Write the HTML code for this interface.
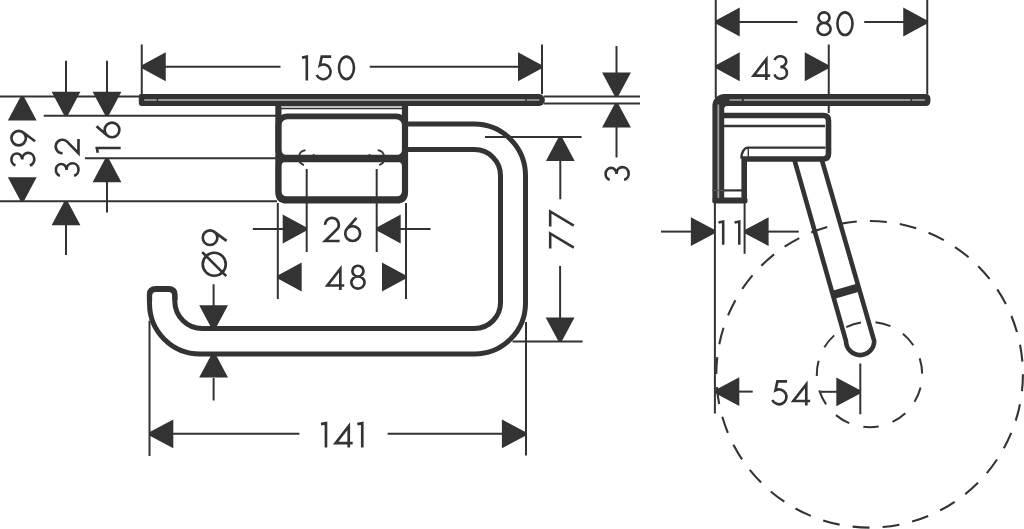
<!DOCTYPE html>
<html><head><meta charset="utf-8"><style>
html,body{margin:0;padding:0;background:#fff;width:1024px;height:529px;overflow:hidden}
svg{display:block}
text{font-family:"Liberation Sans",sans-serif;fill:#333}
</style></head><body>
<svg width="1024" height="529" viewBox="0 0 1024 529">
<line x1="141.75" y1="44.5" x2="141.75" y2="94" stroke="#333" stroke-width="2.0" />
<line x1="542" y1="44.5" x2="542" y2="94" stroke="#333" stroke-width="2.0" />
<line x1="165" y1="66.75" x2="280.5" y2="66.75" stroke="#333" stroke-width="2.0" />
<line x1="369.75" y1="66.75" x2="519" y2="66.75" stroke="#333" stroke-width="2.0" />
<polygon points="141.75,65.15 165.75,52.35 165.75,81.15 141.75,68.35" fill="#333"/>
<polygon points="542.00,65.15 518.00,52.35 518.00,81.15 542.00,68.35" fill="#333"/>
<path transform="translate(301.80,55.30) scale(1.0040)" d="M0.2,2.3 L5.0,1.3 V25" fill="none" stroke="#333" stroke-width="2.6" stroke-linejoin="miter"/>
<path transform="translate(315.50,55.30) scale(1.0040)" d="M15.6,1.3 H6.2 L4.31,10.08 A7.3,7.3 0 1 1 1.18,19.59" fill="none" stroke="#333" stroke-width="2.6" stroke-linejoin="miter"/>
<path transform="translate(337.70,55.30) scale(1.0040)" d="M1.30,12.50 A7.45,11.20 0 1 0 16.20,12.50 A7.45,11.20 0 1 0 1.30,12.50 Z" fill="none" stroke="#333" stroke-width="2.6" stroke-linejoin="miter"/>
<line x1="0" y1="96.5" x2="140" y2="96.5" stroke="#333" stroke-width="2.0" />
<line x1="43.75" y1="115.75" x2="277" y2="115.75" stroke="#333" stroke-width="2.0" />
<line x1="85" y1="158.25" x2="277" y2="158.25" stroke="#333" stroke-width="2.0" />
<line x1="0" y1="201.25" x2="277" y2="201.25" stroke="#333" stroke-width="2.0" />
<polygon points="20.65,96.50 7.85,120.50 36.65,120.50 23.85,96.50" fill="#333"/>
<polygon points="20.65,201.25 7.85,177.25 36.65,177.25 23.85,201.25" fill="#333"/>
<path transform="matrix(0,-1.0200,1.0200,0,10.10,167.00)" d="M1.6,5.23 A5.9,5.3 0 0 1 13.2,6.6 A5.9,5.3 0 0 1 7.3,11.9 H7.6 A6.3,5.9 0 1 1 1.51,19.33" fill="none" stroke="#333" stroke-width="2.6" stroke-linejoin="miter"/>
<path transform="matrix(0,-1.0200,1.0200,0,10.10,146.50)" d="M1.15,8.40 A7.10,7.10 0 1 0 15.35,8.40 A7.10,7.10 0 1 0 1.15,8.40 Z M13.96,12.61 L5.2,24.5" fill="none" stroke="#333" stroke-width="2.6" stroke-linejoin="miter"/>
<line x1="66" y1="60.75" x2="66" y2="92" stroke="#333" stroke-width="2.0" />
<polygon points="64.40,115.75 51.60,91.75 80.40,91.75 67.60,115.75" fill="#333"/>
<polygon points="64.40,201.25 51.60,225.25 80.40,225.25 67.60,201.25" fill="#333"/>
<line x1="66" y1="224" x2="66" y2="255" stroke="#333" stroke-width="2.0" />
<path transform="matrix(0,-1.0080,1.0080,0,54.60,177.30)" d="M1.6,5.23 A5.9,5.3 0 0 1 13.2,6.6 A5.9,5.3 0 0 1 7.3,11.9 H7.6 A6.3,5.9 0 1 1 1.51,19.33" fill="none" stroke="#333" stroke-width="2.6" stroke-linejoin="miter"/>
<path transform="matrix(0,-1.0080,1.0080,0,54.60,154.90)" d="M1.6,7.9 A6.7,6.7 0 1 1 13.6,11.9 L1.6,23.7 H15.8" fill="none" stroke="#333" stroke-width="2.6" stroke-linejoin="miter"/>
<line x1="107" y1="60.75" x2="107" y2="92" stroke="#333" stroke-width="2.0" />
<polygon points="105.40,115.75 92.60,91.75 121.40,91.75 108.60,115.75" fill="#333"/>
<polygon points="105.40,158.25 92.60,182.25 121.40,182.25 108.60,158.25" fill="#333"/>
<line x1="107" y1="181" x2="107" y2="212.5" stroke="#333" stroke-width="2.0" />
<path transform="matrix(0,-1.0080,1.0080,0,95.50,153.00)" d="M0.2,2.3 L5.0,1.3 V25" fill="none" stroke="#333" stroke-width="2.6" stroke-linejoin="miter"/>
<path transform="matrix(0,-1.0080,1.0080,0,95.50,138.60)" d="M12.3,1.0 L3.09,11.62 M1.30,16.40 A7.30,7.30 0 1 0 15.90,16.40 A7.30,7.30 0 1 0 1.30,16.40 Z" fill="none" stroke="#333" stroke-width="2.6" stroke-linejoin="miter"/>
<path d="M140.8,94.1 H539.1 A5.8,5.9 0 0 1 539.1,105.9 H141.8 Q138.8,105.9 138.8,102.9 V96.1 Q138.8,94.1 140.8,94.1 Z" stroke="none" stroke-width="0" fill="#333" />
<line x1="144.2" y1="100.0" x2="156.7" y2="100.0" stroke="#999" stroke-width="1.8" />
<line x1="158.2" y1="100.0" x2="525.2" y2="100.0" stroke="#999" stroke-width="1.8" />
<line x1="526.7" y1="100.0" x2="539.3" y2="100.0" stroke="#999" stroke-width="1.8" />
<line x1="544" y1="96.5" x2="640" y2="96.5" stroke="#333" stroke-width="2.0" />
<line x1="544" y1="103.4" x2="640" y2="103.4" stroke="#333" stroke-width="2.0" />
<line x1="616.5" y1="46" x2="616.5" y2="73" stroke="#333" stroke-width="2.0" />
<polygon points="614.90,96.50 602.10,72.50 630.90,72.50 618.10,96.50" fill="#333"/>
<polygon points="614.90,103.40 602.10,127.40 630.90,127.40 618.10,103.40" fill="#333"/>
<line x1="616.5" y1="126" x2="616.5" y2="157.5" stroke="#333" stroke-width="2.0" />
<path transform="matrix(0,-1.0280,1.0280,0,604.30,181.40)" d="M1.6,5.23 A5.9,5.3 0 0 1 13.2,6.6 A5.9,5.3 0 0 1 7.3,11.9 H7.6 A6.3,5.9 0 1 1 1.51,19.33" fill="none" stroke="#333" stroke-width="2.6" stroke-linejoin="miter"/>
<path d="M278.4,105 V192 Q278.4,200.5 286.9,200.5 H396.5 Q405,200.5 405,192 V105" stroke="#333" stroke-width="6.2" fill="none" />
<rect x="278.4" y="116.4" width="126.6" height="42.1" rx="9" fill="none" stroke="#333" stroke-width="5.8"/>
<line x1="278.4" y1="158.5" x2="405" y2="158.5" stroke="#333" stroke-width="7.5" />
<rect x="278.4" y="158.5" width="126.6" height="40.5" rx="8" fill="none" stroke="#333" stroke-width="5.6"/>
<line x1="281" y1="108.5" x2="402" y2="108.5" stroke="#333" stroke-width="1.6" />
<line x1="281" y1="106.8" x2="402" y2="106.8" stroke="#bbb" stroke-width="1.6" />
<path d="M303.97,165.04 A7.7,7.7 0 0 1 305.53,150.17" stroke="#333" stroke-width="1.8" fill="none" />
<path d="M313.40,154.19 A7.7,7.7 0 0 1 313.40,161.41" stroke="#333" stroke-width="1.8" fill="none" />
<path d="M377.67,150.17 A7.7,7.7 0 0 1 379.23,165.04" stroke="#333" stroke-width="1.8" fill="none" />
<path d="M369.80,161.41 A7.7,7.7 0 0 1 369.80,154.19" stroke="#333" stroke-width="1.8" fill="none" />
<line x1="306.7" y1="169" x2="306.7" y2="252" stroke="#333" stroke-width="2.0" />
<line x1="376.7" y1="169" x2="376.7" y2="252" stroke="#333" stroke-width="2.0" />
<line x1="277.8" y1="203" x2="277.8" y2="299" stroke="#333" stroke-width="2.0" />
<line x1="406" y1="203" x2="406" y2="299" stroke="#333" stroke-width="2.0" />
<line x1="252.8" y1="229" x2="284" y2="229" stroke="#333" stroke-width="2.0" />
<polygon points="306.70,227.40 282.70,214.60 282.70,243.40 306.70,230.60" fill="#333"/>
<line x1="400" y1="229" x2="430.6" y2="229" stroke="#333" stroke-width="2.0" />
<polygon points="376.70,227.40 400.70,214.60 400.70,243.40 376.70,230.60" fill="#333"/>
<path transform="translate(323.50,216.80) scale(1.0200)" d="M1.6,7.9 A6.7,6.7 0 1 1 13.6,11.9 L1.6,23.7 H15.8" fill="none" stroke="#333" stroke-width="2.6" stroke-linejoin="miter"/>
<path transform="translate(343.90,216.80) scale(1.0200)" d="M12.3,1.0 L3.09,11.62 M1.30,16.40 A7.30,7.30 0 1 0 15.90,16.40 A7.30,7.30 0 1 0 1.30,16.40 Z" fill="none" stroke="#333" stroke-width="2.6" stroke-linejoin="miter"/>
<polygon points="277.70,275.40 301.70,262.60 301.70,291.40 277.70,278.60" fill="#333"/>
<polygon points="406.00,275.40 382.00,262.60 382.00,291.40 406.00,278.60" fill="#333"/>
<path transform="translate(326.00,264.40) scale(1.0240)" d="M14.0,25 V4.3 L1.3,20.6 H17.8" fill="none" stroke="#333" stroke-width="2.6" stroke-linejoin="miter"/>
<path transform="translate(350.00,264.40) scale(1.0240)" d="M2.35,6.55 A5.40,5.25 0 1 0 13.15,6.55 A5.40,5.25 0 1 0 2.35,6.55 Z M1.30,17.75 A6.45,5.95 0 1 0 14.20,17.75 A6.45,5.95 0 1 0 1.30,17.75 Z" fill="none" stroke="#333" stroke-width="2.6" stroke-linejoin="miter"/>
<path d="M408,124.1 H474 A51.5,51.5 0 0 1 525.5,175.6 V303 A51,51 0 0 1 474.5,354 H200 A50.5,50.5 0 0 1 149.5,303.5 V296 Q149.5,289.5 156,289.5 H168.5 Q174.8,289.5 174.8,296 V301 A27.5,27.5 0 0 0 202.3,328.5 H474.5 A26,26 0 0 0 500.5,302.5 V175.6 A26,26 0 0 0 474.5,149.6 H408" stroke="#333" stroke-width="5.0" fill="none" />
<path d="M149.5,301 V294.5 Q149.5,288.6 156,288.6 H168.5 Q174.9,288.6 174.9,294.5 V300" stroke="#333" stroke-width="5.3" fill="none" />
<path d="M153,288.8 Q162.2,286.6 171.5,288.8" stroke="#333" stroke-width="3" fill="none" />
<line x1="485" y1="136.9" x2="581.6" y2="136.9" stroke="#333" stroke-width="2.0" />
<line x1="512.5" y1="341.5" x2="582.6" y2="341.5" stroke="#333" stroke-width="2.0" />
<polygon points="558.70,136.90 545.90,160.90 574.70,160.90 561.90,136.90" fill="#333"/>
<line x1="560.3" y1="160" x2="560.3" y2="199.3" stroke="#333" stroke-width="2.0" />
<polygon points="558.50,341.50 545.70,317.50 574.50,317.50 561.70,341.50" fill="#333"/>
<line x1="560.1" y1="265.9" x2="560.1" y2="318.5" stroke="#333" stroke-width="2.0" />
<path transform="matrix(0,-0.9960,0.9960,0,548.90,248.40)" d="M0,1.3 H15.0 L0.8,25" fill="none" stroke="#333" stroke-width="2.6" stroke-linejoin="miter"/>
<path transform="matrix(0,-0.9960,0.9960,0,548.90,226.40)" d="M0,1.3 H15.0 L0.8,25" fill="none" stroke="#333" stroke-width="2.6" stroke-linejoin="miter"/>
<line x1="213.6" y1="284.3" x2="213.6" y2="306" stroke="#333" stroke-width="2.0" />
<polygon points="212.00,329.30 199.20,305.30 228.00,305.30 215.20,329.30" fill="#333"/>
<polygon points="212.00,353.40 199.20,377.40 228.00,377.40 215.20,353.40" fill="#333"/>
<line x1="213.6" y1="378" x2="213.6" y2="400.5" stroke="#333" stroke-width="2.0" />
<path transform="matrix(0,-1.0280,1.0280,0,201.40,277.20)" d="M1.40,12.50 A11.20,11.20 0 1 0 23.80,12.50 A11.20,11.20 0 1 0 1.40,12.50 Z M1.0,24.2 L24.4,0.8" fill="none" stroke="#333" stroke-width="2.6" stroke-linejoin="miter"/>
<path transform="matrix(0,-1.0280,1.0280,0,201.40,246.20)" d="M1.15,8.40 A7.10,7.10 0 1 0 15.35,8.40 A7.10,7.10 0 1 0 1.15,8.40 Z M13.96,12.61 L5.2,24.5" fill="none" stroke="#333" stroke-width="2.6" stroke-linejoin="miter"/>
<line x1="149.5" y1="320.8" x2="149.5" y2="456" stroke="#333" stroke-width="2.0" />
<line x1="526" y1="322" x2="526" y2="455.6" stroke="#333" stroke-width="2.0" />
<polygon points="149.30,432.20 173.30,419.40 173.30,448.20 149.30,435.40" fill="#333"/>
<line x1="173" y1="433.8" x2="299.4" y2="433.8" stroke="#333" stroke-width="2.0" />
<polygon points="525.90,432.20 501.90,419.40 501.90,448.20 525.90,435.40" fill="#333"/>
<line x1="387.6" y1="433.8" x2="503" y2="433.8" stroke="#333" stroke-width="2.0" />
<path transform="translate(320.80,421.80) scale(1.0320)" d="M0.2,2.3 L5.0,1.3 V25" fill="none" stroke="#333" stroke-width="2.6" stroke-linejoin="miter"/>
<path transform="translate(334.30,421.80) scale(1.0320)" d="M14.0,25 V4.3 L1.3,20.6 H17.8" fill="none" stroke="#333" stroke-width="2.6" stroke-linejoin="miter"/>
<path transform="translate(357.10,421.80) scale(1.0320)" d="M0.2,2.3 L5.0,1.3 V25" fill="none" stroke="#333" stroke-width="2.6" stroke-linejoin="miter"/>
<line x1="715.75" y1="0" x2="715.75" y2="98" stroke="#333" stroke-width="2.0" />
<line x1="927.25" y1="0" x2="927.25" y2="94" stroke="#333" stroke-width="2.0" />
<polygon points="715.75,20.40 739.75,7.60 739.75,36.40 715.75,23.60" fill="#333"/>
<polygon points="927.25,20.40 903.25,7.60 903.25,36.40 927.25,23.60" fill="#333"/>
<line x1="739" y1="22" x2="797.5" y2="22" stroke="#333" stroke-width="2.0" />
<line x1="864.25" y1="22" x2="904" y2="22" stroke="#333" stroke-width="2.0" />
<path transform="translate(816.20,11.00) scale(1.0120)" d="M2.35,6.55 A5.40,5.25 0 1 0 13.15,6.55 A5.40,5.25 0 1 0 2.35,6.55 Z M1.30,17.75 A6.45,5.95 0 1 0 14.20,17.75 A6.45,5.95 0 1 0 1.30,17.75 Z" fill="none" stroke="#333" stroke-width="2.6" stroke-linejoin="miter"/>
<path transform="translate(836.10,11.00) scale(1.0120)" d="M1.30,12.50 A7.45,11.20 0 1 0 16.20,12.50 A7.45,11.20 0 1 0 1.30,12.50 Z" fill="none" stroke="#333" stroke-width="2.6" stroke-linejoin="miter"/>
<polygon points="715.75,65.15 739.75,52.35 739.75,81.15 715.75,68.35" fill="#333"/>
<polygon points="828.75,65.15 804.75,52.35 804.75,81.15 828.75,68.35" fill="#333"/>
<line x1="828.75" y1="44.5" x2="828.75" y2="113" stroke="#333" stroke-width="2.0" />
<path transform="translate(752.30,54.90) scale(1.0040)" d="M14.0,25 V4.3 L1.3,20.6 H17.8" fill="none" stroke="#333" stroke-width="2.6" stroke-linejoin="miter"/>
<path transform="translate(773.00,54.90) scale(1.0040)" d="M1.6,5.23 A5.9,5.3 0 0 1 13.2,6.6 A5.9,5.3 0 0 1 7.3,11.9 H7.6 A6.3,5.9 0 1 1 1.51,19.33" fill="none" stroke="#333" stroke-width="2.6" stroke-linejoin="miter"/>
<path d="M712.4,199 V106 A12,12 0 0 1 724.4,93.9 H926.2 A4.2,4.2 0 0 1 930.4,98.1 V101.7 A4.2,4.2 0 0 1 926.2,105.9 H727.2 A3,3 0 0 0 724.2,108.9 V199 Z" stroke="none" stroke-width="0" fill="#333" />
<rect x="712.3" y="197.4" width="35.2" height="6" rx="2.2" fill="#333"/>
<line x1="729.5" y1="100" x2="741.8" y2="100" stroke="#999" stroke-width="1.8" />
<line x1="718.3" y1="104.5" x2="718.3" y2="198" stroke="#999" stroke-width="1.8" />
<line x1="743.8" y1="100" x2="910.5" y2="100" stroke="#999" stroke-width="1.8" />
<line x1="912.1" y1="100" x2="924.8" y2="100" stroke="#999" stroke-width="1.8" />
<path d="M724,115.5 H823.5 Q828.5,115.5 828.5,120.5 V153.5 Q828.5,159 823,159 H744.2 V199" stroke="#333" stroke-width="5.6" fill="none" stroke-linejoin="miter"/>
<line x1="724" y1="126" x2="825" y2="126" stroke="#333" stroke-width="2.4" />
<path d="M741.4,158.5 A6.4,10.5 0 0 1 747.8,147.6 H825.5" stroke="#333" stroke-width="2.4" fill="none" />
<line x1="748.3" y1="148" x2="748.3" y2="157" stroke="#333" stroke-width="1.4" />
<line x1="724" y1="190.4" x2="742" y2="190.4" stroke="#333" stroke-width="2.2" />
<line x1="712" y1="190.4" x2="724" y2="190.4" stroke="#555" stroke-width="1.2" />
<path d="M794,158.3 L846.0,341 A14.1,14.1 0 0 0 874.2,341 L821.4,158.3" stroke="#333" stroke-width="4.6" fill="none" />
<line x1="832.7" y1="295" x2="858.7" y2="287.5" stroke="#333" stroke-width="8.5" />
<circle cx="869.6" cy="374.3" r="153.3" fill="none" stroke="#333" stroke-width="2.1" stroke-dasharray="17 13.1"/>
<circle cx="869.5" cy="374.5" r="52.7" fill="none" stroke="#333" stroke-width="2" stroke-dasharray="15.5 14.6" stroke-dashoffset="-13.2"/>
<line x1="714.9" y1="203" x2="714.9" y2="413.5" stroke="#333" stroke-width="2.0" />
<line x1="744.6" y1="203" x2="744.6" y2="253.8" stroke="#333" stroke-width="2.0" />
<line x1="661" y1="231.6" x2="692" y2="231.6" stroke="#333" stroke-width="2.0" />
<polygon points="714.90,230.00 690.90,217.20 690.90,246.00 714.90,233.20" fill="#333"/>
<polygon points="744.60,230.00 768.60,217.20 768.60,246.00 744.60,233.20" fill="#333"/>
<line x1="767" y1="231.6" x2="798.7" y2="231.6" stroke="#333" stroke-width="2.0" />
<path transform="translate(718.30,220.30) scale(0.9760)" d="M0.2,2.3 L5.0,1.3 V25" fill="none" stroke="#333" stroke-width="2.6" stroke-linejoin="miter"/>
<path transform="translate(734.40,220.30) scale(0.9760)" d="M0.2,2.3 L5.0,1.3 V25" fill="none" stroke="#333" stroke-width="2.6" stroke-linejoin="miter"/>
<polygon points="715.30,390.00 739.30,377.20 739.30,406.00 715.30,393.20" fill="#333"/>
<line x1="738" y1="391.6" x2="752.7" y2="391.6" stroke="#333" stroke-width="2.0" />
<polygon points="860.30,390.20 836.30,377.40 836.30,406.20 860.30,393.40" fill="#333"/>
<line x1="820.8" y1="391.8" x2="837" y2="391.8" stroke="#333" stroke-width="2.0" />
<line x1="860.3" y1="363.5" x2="860.3" y2="414.3" stroke="#333" stroke-width="2.0" />
<path transform="translate(771.10,380.00) scale(1.0200)" d="M15.6,1.3 H6.2 L4.31,10.08 A7.3,7.3 0 1 1 1.18,19.59" fill="none" stroke="#333" stroke-width="2.6" stroke-linejoin="miter"/>
<path transform="translate(792.00,380.00) scale(1.0200)" d="M14.0,25 V4.3 L1.3,20.6 H17.8" fill="none" stroke="#333" stroke-width="2.6" stroke-linejoin="miter"/>
</svg>
</body></html>
